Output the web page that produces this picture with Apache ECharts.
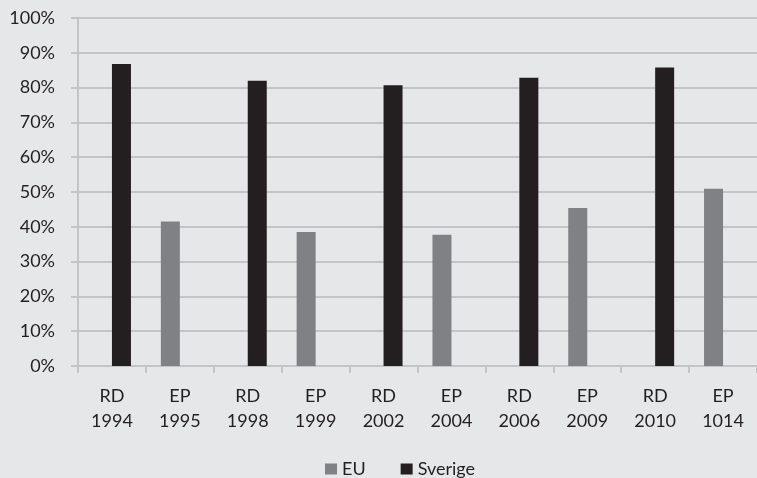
<!DOCTYPE html>
<html>
<head>
<meta charset="utf-8">
<script src="https://cdn.jsdelivr.net/npm/echarts@6/dist/echarts.min.js"></script>
<style>
html,body{margin:0;padding:0;background:#e6e7e8;}
#c{width:757px;height:478px;}
</style>
</head>
<body>
<div id="c"></div>
<script>
var categories = ['RD\n1994','EP\n1995','RD\n1998','EP\n1999','RD\n2002','EP\n2004','RD\n2006','EP\n2009','RD\n2010','EP\n1014'];
var euValues = [null, 41.5, null, 38.5, null, 37.7, null, 45.4, null, 50.9];
var sverigeValues = [86.8, null, 82.0, null, 80.7, null, 82.8, null, 85.8, null];
var seriesNames = ['EU', 'Sverige'];

var chart = echarts.init(document.getElementById('c'), null, {renderer: 'canvas'});
var txt = '#231f20';
var gridC = '#c3c4c6';
var font = 'Lato, "Open Sans", sans-serif';
chart.setOption({
  backgroundColor: '#e6e7e8',
  animation: false,
  grid: {left: 78, top: 18, bottom: 112, right: -4, containLabel: false},
  legend: {
    bottom: -5, left: 320,
    itemWidth: 12, itemHeight: 11, itemGap: 35,
    icon: 'rect',
    textStyle: {color: txt, fontSize: 18, fontFamily: font},
    data: seriesNames
  },
  xAxis: {
    type: 'category',
    data: categories,
    axisLine: {lineStyle: {color: gridC, width: 2}},
    axisTick: {show: true, length: 7, lineStyle: {color: gridC, width: 2}},
    axisLabel: {color: txt, fontSize: 18, fontFamily: font, lineHeight: 25, margin: 18, interval: 0}
  },
  yAxis: {
    type: 'value', min: 0, max: 100, interval: 10,
    axisLine: {show: true, lineStyle: {color: gridC, width: 2}},
    axisTick: {show: true, length: 7, lineStyle: {color: gridC, width: 2}},
    splitLine: {lineStyle: {color: gridC, width: 2}},
    axisLabel: {formatter: '{value}%', color: txt, fontSize: 18, fontFamily: font, margin: 23}
  },
  series: [
    {name: seriesNames[0], type: 'bar', data: euValues, barWidth: 19, barGap: '0%',
     itemStyle: {color: '#808184'}},
    {name: seriesNames[1], type: 'bar', data: sverigeValues, barWidth: 19, barGap: '0%',
     itemStyle: {color: '#231f20'}}
  ]
});
</script>
</body>
</html>
